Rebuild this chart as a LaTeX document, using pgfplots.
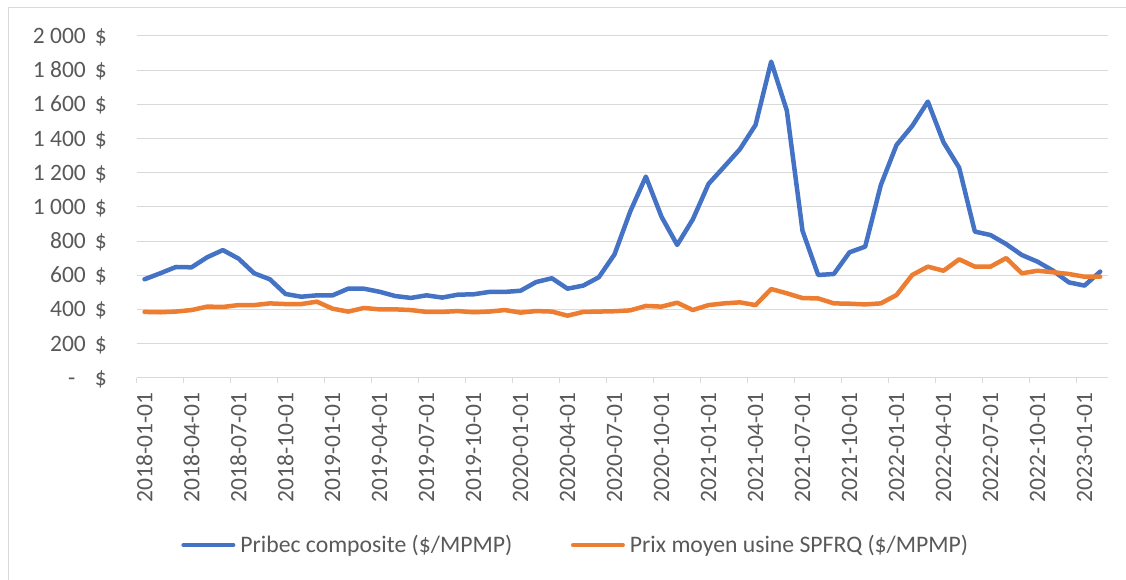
\documentclass[border=0pt]{standalone}
\usepackage{pgfplots}
\pgfplotsset{compat=1.18}
\usepackage{fontspec}
\setmainfont{Carlito}
\definecolor{cblue}{HTML}{4472C4}
\definecolor{corange}{HTML}{ED7D31}
\definecolor{tcol}{HTML}{595959}
\definecolor{gcol}{HTML}{D9D9D9}
\newcommand\yl[1]{#1\hspace{9pt}\$}
\begin{document}
\begin{tikzpicture}[x=1pt,y=1pt]
\useasboundingbox (0,0) rectangle (1126,580);
\draw[gcol, line width=1pt] (8,-5) -- (8,572) -- (1140,572);
\begin{axis}[
  at={(136.7pt,202.3pt)}, anchor=south west,
  scale only axis, width=971.3pt, height=341.7pt,
  xmin=-0.5, xmax=61.5, ymin=0, ymax=2000,
  clip=false,
  separate axis lines,
  axis x line*=bottom, axis y line*=left,
  x axis line style={gcol, line width=1pt},
  y axis line style={draw=none},
  ytick={0,200,...,2000},
  yticklabels={\yl{-\hspace{10.5pt}},\yl{200},\yl{400},\yl{600},\yl{800},\yl{1 000},\yl{1 200},\yl{1 400},\yl{1 600},\yl{1 800},\yl{2 000}},
  ymajorgrids, major grid style={gcol, line width=1pt},
  xtick={0,3,...,60},
  xticklabels={2018-01-01,2018-04-01,2018-07-01,2018-10-01,2019-01-01,2019-04-01,2019-07-01,2019-10-01,2020-01-01,2020-04-01,2020-07-01,2020-10-01,2021-01-01,2021-04-01,2021-07-01,2021-10-01,2022-01-01,2022-04-01,2022-07-01,2022-10-01,2023-01-01},
  major tick length=0pt,
  extra x ticks={-0.5,2.5,...,59.5},
  extra x tick labels={},
  extra x tick style={major tick length=5pt, tick align=outside, tick style={gcol, line width=1pt}},
  tick label style={font=\fontsize{23.5}{28}\selectfont, color=tcol},
  yticklabel style={anchor=base east, inner xsep=29.7pt, inner ysep=0pt, yshift=-7.5pt},
  xticklabel style={rotate=90, anchor=east, inner xsep=15pt, inner ysep=0pt},
  legend columns=2,
  legend cell align=left,
  legend style={at={(0.451,-0.4896)}, anchor=center, draw=none, fill=none, inner sep=0pt,
    font=\fontsize{23.7}{28}\selectfont, text=tcol,
    column sep=5pt, /tikz/every even column/.append style={column sep=58.7pt},
    nodes={inner sep=0pt}},
  legend image code/.code={\draw[#1, line width=4pt, line cap=round] (2pt,0pt) -- (52pt,0pt);},
]
\addplot[cblue, line width=4.5pt, line join=round, line cap=round] coordinates {
(0,576)(1,611)(2,648)(3,646)(4,705)(5,747)(6,697)(7,611)(8,576)(9,490)
(10,474)(11,482)(12,482)(13,521)(14,521)(15,503)(16,478)(17,467)(18,482)(19,469)
(20,486)(21,488)(22,502)(23,502)(24,509)(25,560)(26,582)(27,521)(28,539)(29,588)
(30,722)(31,972)(32,1177)(33,942)(34,777)(35,927)(36,1134)(37,1235)(38,1337)(39,1479)
(40,1850)(41,1563)(42,860)(43,601)(44,607)(45,734)(46,767)(47,1128)(48,1362)(49,1473)
(50,1616)(51,1378)(52,1229)(53,855)(54,835)(55,782)(56,718)(57,679)(58,626)(59,558)
(60,539)(61,621)};
\addlegendentry{Pribec composite (\$/MPMP)}
\addplot[corange, line width=4.5pt, line join=round, line cap=round] coordinates {
(0,385)(1,383)(2,387)(3,396)(4,416)(5,414)(6,425)(7,425)(8,435)(9,431)
(10,431)(11,445)(12,404)(13,387)(14,408)(15,400)(16,400)(17,396)(18,385)(19,385)
(20,390)(21,383)(22,387)(23,396)(24,381)(25,390)(26,387)(27,363)(28,385)(29,387)
(30,389)(31,394)(32,420)(33,416)(34,439)(35,396)(36,425)(37,435)(38,441)(39,425)
(40,519)(41,494)(42,466)(43,464)(44,435)(45,433)(46,429)(47,435)(48,484)(49,601)
(50,650)(51,626)(52,693)(53,650)(54,650)(55,700)(56,611)(57,626)(58,617)(59,607)
(60,591)(61,591)};
\addlegendentry{Prix moyen usine SPFRQ (\$/MPMP)}
\end{axis}
\end{tikzpicture}
\end{document}
